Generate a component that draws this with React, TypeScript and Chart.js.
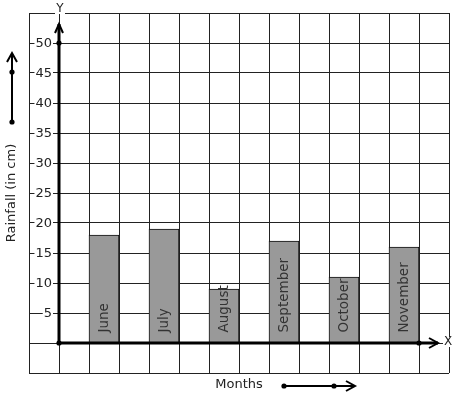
import React, { useEffect, useRef } from 'react';
import { Chart, registerables } from 'chart.js';

Chart.register(...registerables);

const months: string[] = ['June', 'July', 'August', 'September', 'October', 'November'];
const rainfall: number[] = [18, 19, 9, 17, 11, 16];
const barCenters: number[] = [1.5, 3.5, 5.5, 7.5, 9.5, 11.5];
const yTickLabels: number[] = [5, 10, 15, 20, 25, 30, 35, 40, 45, 50];
const yRange: number[] = [-5, 55];
const xRange: number[] = [-1, 13];
const axisDots: number[][] = [[0, 0], [0, 50], [12, 0]];
const yTitle = 'Rainfall (in cm)';
const xTitle = 'Months';

const FONT = "'DejaVu Sans', sans-serif";
const TEXT = '#222';

function chevron(ctx: CanvasRenderingContext2D, pts: number[][]) {
  ctx.beginPath();
  ctx.moveTo(pts[0][0], pts[0][1]);
  for (let i = 1; i < pts.length; i++) ctx.lineTo(pts[i][0], pts[i][1]);
  ctx.stroke();
}

function dot(ctx: CanvasRenderingContext2D, x: number, y: number) {
  ctx.beginPath();
  ctx.arc(x, y, 2.6, 0, Math.PI * 2);
  ctx.fill();
}

const decorPlugin = {
  id: 'decor',
  afterDatasetsDraw(chart: any) {
    const ctx: CanvasRenderingContext2D = chart.ctx;
    const xs = chart.scales.x;
    const ys = chart.scales.y;
    const area = chart.chartArea;
    const x0 = xs.getPixelForValue(0);
    const y0 = ys.getPixelForValue(0);
    ctx.save();

    // bar labels
    const meta = chart.getDatasetMeta(0);
    ctx.fillStyle = '#333';
    ctx.font = `13.5px ${FONT}`;
    ctx.textAlign = 'left';
    ctx.textBaseline = 'middle';
    meta.data.forEach((bar: any, i: number) => {
      ctx.save();
      ctx.translate(bar.x, bar.base - 10);
      ctx.rotate(-Math.PI / 2);
      ctx.fillText(months[i], 0, 0);
      ctx.restore();
    });

    // axes
    ctx.strokeStyle = '#000';
    ctx.fillStyle = '#000';
    ctx.lineWidth = 3;
    const yTop = area.top + 11;
    const xEnd = area.right - 11;
    ctx.beginPath();
    ctx.moveTo(x0, y0);
    ctx.lineTo(x0, yTop);
    ctx.moveTo(x0, y0);
    ctx.lineTo(xEnd, y0);
    ctx.stroke();
    ctx.lineWidth = 2;
    chevron(ctx, [[x0 - 4, yTop + 9], [x0, yTop], [x0 + 4, yTop + 9]]);
    chevron(ctx, [[xEnd - 9, y0 - 5], [xEnd, y0], [xEnd - 9, y0 + 5]]);
    axisDots.forEach(([dx, dy]) => dot(ctx, xs.getPixelForValue(dx), ys.getPixelForValue(dy)));

    // tick labels with white backdrop
    ctx.font = `13px ${FONT}`;
    ctx.textAlign = 'right';
    ctx.textBaseline = 'middle';
    yTickLabels.forEach((v) => {
      const py = ys.getPixelForValue(v);
      const label = String(v);
      const w = ctx.measureText(label).width;
      const right = x0 - 7;
      ctx.fillStyle = '#fff';
      ctx.fillRect(right - w - 1, py - 5, w + 2, 10);
      ctx.fillStyle = TEXT;
      ctx.fillText(label, right, py + 0.5);
    });

    // axis letters
    ctx.font = `12px ${FONT}`;
    ctx.textAlign = 'center';
    const yl = { x: x0 + 1, y: area.top - 4 };
    ctx.fillStyle = '#fff';
    ctx.fillRect(yl.x - 5, yl.y - 5, 10, 10);
    ctx.fillStyle = TEXT;
    ctx.fillText('Y', yl.x, yl.y);
    const xl = { x: area.right - 1, y: y0 - 1 };
    ctx.fillStyle = '#fff';
    ctx.fillRect(xl.x - 5, xl.y - 5, 10, 10);
    ctx.fillStyle = TEXT;
    ctx.fillText('X', xl.x, xl.y);

    // axis titles
    ctx.font = `13px ${FONT}`;
    ctx.save();
    ctx.translate(12, (area.top + area.bottom) / 2);
    ctx.rotate(-Math.PI / 2);
    ctx.fillText(yTitle, 0, 0);
    ctx.restore();
    ctx.fillText(xTitle, 239, area.bottom + 12);

    // decorative arrows
    ctx.strokeStyle = '#000';
    ctx.fillStyle = '#000';
    ctx.lineWidth = 2;
    const lx = 12;
    ctx.beginPath();
    ctx.moveTo(lx, 122);
    ctx.lineTo(lx, 54);
    ctx.stroke();
    chevron(ctx, [[lx - 5, 62], [lx, 53], [lx + 5, 62]]);
    dot(ctx, lx, 72);
    dot(ctx, lx, 122);

    const by = area.bottom + 13;
    ctx.beginPath();
    ctx.moveTo(284, by);
    ctx.lineTo(354, by);
    ctx.stroke();
    chevron(ctx, [[346, by - 5], [355, by], [346, by + 5]]);
    dot(ctx, 284, by);
    dot(ctx, 334, by);

    ctx.restore();
  },
};

export default function App() {
  const ref = useRef<HTMLCanvasElement | null>(null);
  useEffect(() => {
    if (!ref.current) return;
    const chart = new Chart(ref.current, {
      type: 'bar',
      data: {
        datasets: [
          {
            data: barCenters.map((x, i) => ({ x, y: rainfall[i] })),
            backgroundColor: '#999999',
            borderColor: '#111',
            borderWidth: 1,
            barPercentage: 1,
            categoryPercentage: 1,
          },
        ],
      },
      options: {
        responsive: false,
        animation: false,
        layout: { padding: { left: 29, right: 8, top: 13, bottom: 26 } },
        plugins: { legend: { display: false }, tooltip: { enabled: false } },
        scales: {
          x: {
            type: 'linear',
            offset: false,
            min: xRange[0],
            max: xRange[1],
            ticks: { stepSize: 1, display: false },
            grid: { color: '#222', lineWidth: 1, drawTicks: false, offset: false },
            border: { display: false },
          },
          y: {
            type: 'linear',
            min: yRange[0],
            max: yRange[1],
            ticks: { stepSize: 5, display: false },
            grid: { color: '#222', lineWidth: 1, drawTicks: false },
            border: { display: false },
          },
        },
      },
      plugins: [decorPlugin],
    } as any);
    return () => chart.destroy();
  }, []);
  return (
    <div style={{ position: 'fixed', left: 0, top: 0, width: 457, height: 399, background: '#fff' }}>
      <canvas ref={ref} width={457} height={399} />
    </div>
  );
}
